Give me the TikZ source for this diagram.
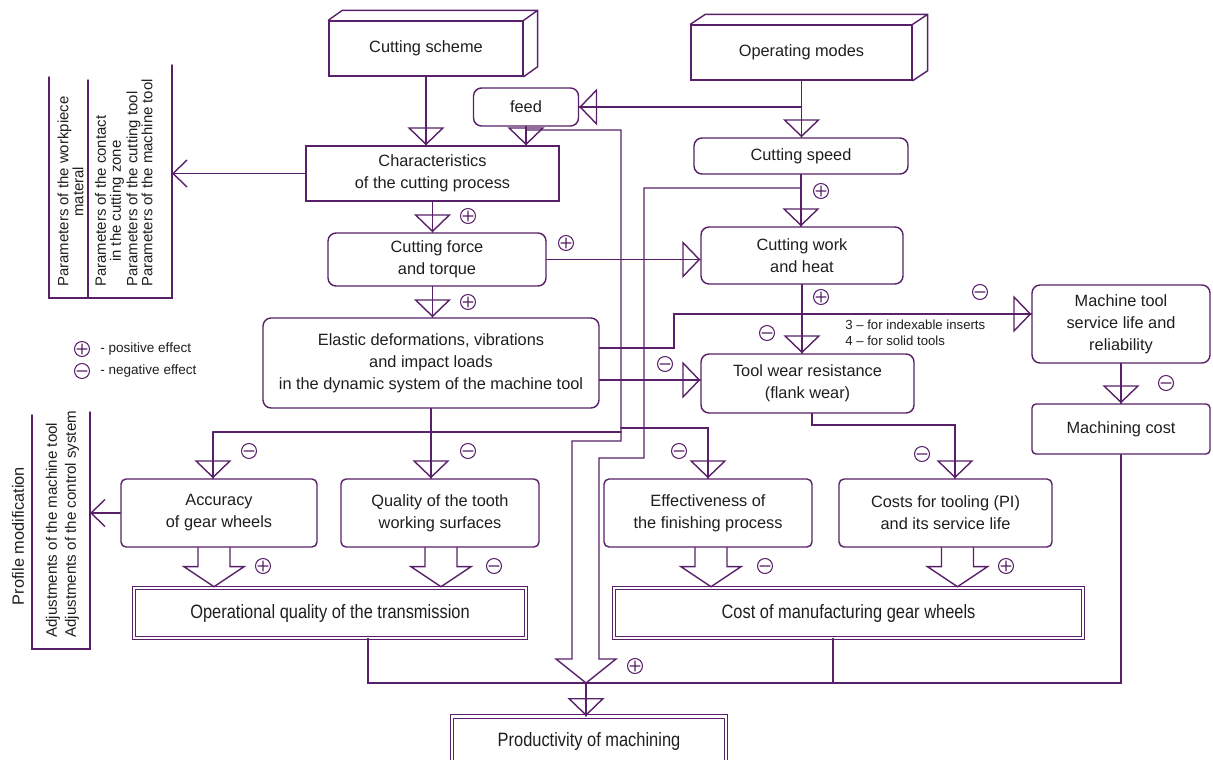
\documentclass[tikz,border=0pt]{standalone}
\usepackage{fontspec}
\setmainfont{Liberation Sans}
\newfontfamily\narrowfont[FakeStretch=0.85]{Liberation Sans}
\usetikzlibrary{arrows.meta}

\definecolor{linepurple}{RGB}{88,32,104}
\definecolor{textgray}{RGB}{30,30,30}

\tikzset{
  line/.style={draw=linepurple, line width=0.8pt},
  box/.style={line, rounded corners=0.16cm, inner sep=0pt, align=center, text=textgray,
    font=\fontsize{9.3}{12.5}\selectfont},
  sqbox/.style={box, sharp corners},
  dbox/.style={draw=linepurple, double=white, double distance=0.05cm, line width=0.55pt,
    inner sep=0pt, text=textgray, font=\narrowfont\fontsize{11}{13}\selectfont},
  flow/.style={line, postaction={draw=linepurple, line width=0.8pt,
    -{Triangle[open, length=0.36cm, width=0.74cm]}}},
  barb/.style={line, -{Straight Barb[length=0.28cm, width=0.54cm]}},
  vlabel/.style={rotate=90, inner sep=0pt, align=center, text=textgray,
    font=\fontsize{8.5}{8.6}\selectfont},
  note/.style={inner sep=0pt, anchor=west, text=textgray},
  posmark/.pic={\draw[linepurple, line width=0.6pt] (0,0) circle[radius=7.5] (-5,0) -- (5,0) (0,-5) -- (0,5);},
  negmark/.pic={\draw[linepurple, line width=0.6pt] (0,0) circle[radius=7.5] (-5,0) -- (5,0);},
}

\begin{document}
\begin{tikzpicture}[x=0.02cm,y=-0.02cm,line cap=round]
  \useasboundingbox (0,0) rectangle (1213,760);

  % inputs
  \node[sqbox, minimum width=3.88cm, minimum height=1.1cm] (scheme) at (426,48.5) {Cutting scheme};
  \node[sqbox, minimum width=4.42cm, minimum height=1.1cm] (modes) at (801.5,52.5) {Operating modes};
  \draw[line] (scheme.north west) -- ++(14,-10) -| ([shift={(14,-10)}]scheme.south east) -- (scheme.south east)
    (scheme.north east) -- ++(14,-10);
  \draw[line] (modes.north west) -- ++(15,-10) -| ([shift={(15,-10)}]modes.south east) -- (modes.south east)
    (modes.north east) -- ++(15,-10);

  % process
  \node[box, minimum width=2.1cm, minimum height=0.76cm] (feed) at (526,107) {feed};
  \node[sqbox, minimum width=5.06cm, minimum height=1.1cm] (charac) at (432.5,173.5) {Characteristics\\of the cutting process};
  \node[box, minimum width=4.28cm, minimum height=0.72cm] (speed) at (801,156) {Cutting speed};
  \node[box, minimum width=4.36cm, minimum height=1.06cm] (force) at (437,259.5) {Cutting force\\and torque};
  \node[box, minimum width=4.04cm, minimum height=1.14cm] (work) at (802,255.5) {Cutting work\\and heat};
  \node[box, minimum width=6.72cm, minimum height=1.8cm] (elastic) at (431,363)
    {Elastic deformations, vibrations\\and impact loads\\in the dynamic system of the machine tool};
  \node[box, minimum width=4.26cm, minimum height=1.18cm] (wear) at (807.5,383.5) {Tool wear resistance\\(flank wear)};
  \node[box, minimum width=3.56cm, minimum height=1.56cm] (mtool) at (1121,324) {Machine tool\\service life and\\reliability};
  \node[box, rounded corners=0.08cm, minimum width=3.56cm, minimum height=1cm] (mcost) at (1121,429) {Machining cost};

  % results
  \node[box, rounded corners=0.1cm, minimum width=3.92cm, minimum height=1.36cm] (accur) at (219,513) {Accuracy\\of gear wheels};
  \node[box, rounded corners=0.1cm, minimum width=3.96cm, minimum height=1.36cm] (quality) at (440,513) {Quality of the tooth\\working surfaces};
  \node[box, rounded corners=0.1cm, minimum width=4.16cm, minimum height=1.36cm] (effect) at (708,513) {Effectiveness of\\the finishing process};
  \node[box, rounded corners=0.1cm, minimum width=4.26cm, minimum height=1.36cm] (costs) at (945.5,513) {Costs for tooling (PI)\\and its service life};
  \node[dbox, minimum width=7.84cm, minimum height=1cm] (oper) at (330,613) {Operational quality of the transmission};
  \node[dbox, minimum width=9.38cm, minimum height=1cm] (manuf) at (848.5,613) {Cost of manufacturing gear wheels};
  \node[dbox, minimum width=5.48cm, minimum height=1cm] (prod) at (589,741.5) {Productivity of machining};

  % links
  \draw[flow] (scheme.south) -- (scheme.south |- charac.north);
  \draw[flow] (modes.south) -- (modes.south |- speed.north);
  \draw[flow] (modes.south |- feed.east) -- (feed.east);
  \draw[flow] (feed.south) -- (feed.south |- charac.north);
  \draw[flow] (charac.south) -- (charac.south |- force.north);
  \draw[flow] (charac.south |- force.south) -- (charac.south |- elastic.north);
  \draw[flow] (force.east) -- (force.east -| work.west);
  \draw[flow] (speed.south) -- (speed.south |- work.north);
  \draw[flow] (work.south) -- (work.south |- wear.north);
  \draw[flow] (elastic.east |- 0,380) -- (wear.west |- 0,380);
  \draw[flow] (elastic.east |- 0,348) -| (674,314) -- (mtool.west |- 0,314);
  \draw[flow] (mtool.south) -- (mcost.north);
  \draw[flow] (wear.south -| 812,0) |- (955,425) -- (955,425 |- costs.north);

  % feed and speed into productivity
  \draw[line] (feed.south |- 0,130) -| (621,441) -| (572,659) -- (556,659) -- (586,683) -- (616,659)
    -- (599,659) |- (644,458) |- (speed.south |- 0,188);
  \draw[line] (621,432) -- (213,432);
  \draw[flow] (213,432) -- (213,432 |- accur.north);
  \draw[flow] (elastic.south) -- (elastic.south |- quality.north);
  \draw[flow] (621,428) -| (effect.north);

  % block arrows
  \foreach \src/\dx in {accur/-5,quality/1,effect/3,costs/12} {
    \draw[line] (\src.south) ++(\dx-16,0) -- ++(0,19) -- ++(-14,0) -- ++(30,20) -- ++(30,-20) -- ++(-14,0) -- ++(0,-19);
  }

  % collector
  \draw[line] (oper.south -| 368,0) |- (mcost.south |- 0,683) -- (mcost.south);
  \draw[line] (manuf.south -| 833,0) -- (833,683);
  \draw[flow] (586,683) -- (586,683 |- prod.north);

  % parameters
  \draw[line] (172,65) -- (172,298) -- (49,298) -- (49,77) (88,80) -- (88,298);
  \coordinate (params) at (172,173);
  \draw[barb] (charac.west) -- (charac.west -| params);
  \node[vlabel, anchor=west] (workpiece) at (70.5,287) {Parameters of the workpiece\\materal};
  \node[vlabel, anchor=west] (contact) at (109.5,287) {Parameters of the contact\\in the cutting zone};
  \node[vlabel, anchor=west, align=left] (tooling) at (139.5,287) {Parameters of the cutting tool\\Parameters of the machine tool};

  % adjustments
  \draw[line] (32,415) -- (32,649) -- (90,649) -- (90,412);
  \coordinate (adjtip) at (90,508);
  \draw[barb] (accur.west) -- (accur.west -| adjtip);
  \node[vlabel, font=\fontsize{9.3}{11}\selectfont] (profile) at (18,536) {Profile modification};
  \node[vlabel, anchor=west, align=left, font=\fontsize{8.6}{10.8}\selectfont] (adjust) at (62.5,638)
    {Adjustments of the machine tool\\Adjustments of the control system};

  % legend and notes
  \node[note, font=\fontsize{7.7}{9}\selectfont] (poslabel) at (100,349) {- positive effect};
  \node[note, font=\fontsize{7.7}{9}\selectfont] (neglabel) at (100,371) {- negative effect};
  \node[note, font=\fontsize{7.5}{9}\selectfont] (inserts) at (845,325) {3 – for indexable inserts};
  \node[note, font=\fontsize{7.5}{9}\selectfont] (solid) at (845,341) {4 – for solid tools};

  % signs
  \foreach \x/\y in {468/216,468/302,566/243,821/191,821/297,263/566,1006/566,635/666,82/349}
    \pic at (\x,\y) {posmark};
  \foreach \x/\y in {665/364,767/333,980/292,1166/383,249/451,468/451,679/451,922/454,494/566,765/566,82/371}
    \pic at (\x,\y) {negmark};
\end{tikzpicture}
\end{document}
